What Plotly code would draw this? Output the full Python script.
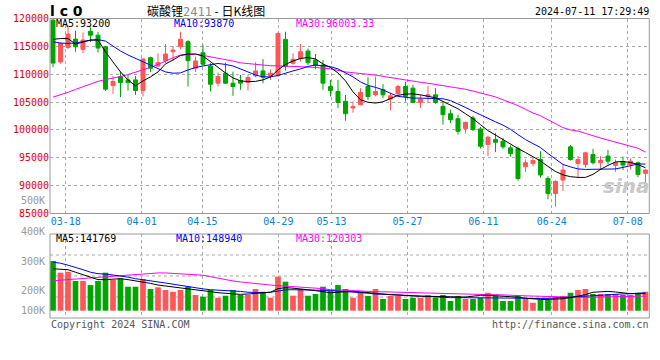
import plotly.graph_objects as go

# ---------------- data ----------------
dates = ["03-14", "03-15", "03-18", "03-19", "03-20", "03-21", "03-22", "03-25", "03-26", "03-27",
         "03-28", "03-29", "04-01", "04-02", "04-03", "04-08", "04-09", "04-10", "04-11", "04-12",
         "04-15", "04-16", "04-17", "04-18", "04-19", "04-22", "04-23", "04-24", "04-25", "04-26",
         "04-29", "04-30", "05-06", "05-07", "05-08", "05-09", "05-10", "05-13", "05-14", "05-15",
         "05-16", "05-17", "05-20", "05-21", "05-22", "05-23", "05-24", "05-27", "05-28", "05-29",
         "05-30", "05-31", "06-03", "06-04", "06-05", "06-06", "06-07", "06-11", "06-12", "06-13",
         "06-14", "06-17", "06-18", "06-19", "06-20", "06-21", "06-24", "06-25", "06-26", "06-27",
         "06-28", "07-01", "07-02", "07-03", "07-04", "07-05", "07-08", "07-09", "07-10", "07-11"]

tick_dates = ["03-18", "04-01", "04-15", "04-29", "05-13", "05-27", "06-11", "06-24", "07-08"]

opens = [119700, 112200, 114800, 116300, 114460, 117700, 117000, 114930, 107960, 109580,
         108980, 108980, 107070, 112970, 111480, 112430, 114040, 114930, 115830, 111070,
         113860, 111480, 108390, 110180, 108390, 108870, 108500, 109700, 110590, 109760,
         109760, 116250, 111960, 112850, 114160, 112550, 111660, 107790, 106900, 105130,
         103930, 104520, 107790, 106300, 107200, 105530, 106480, 107790, 107500, 104930,
         106000, 106300, 104230, 102910, 102020, 100230, 102140, 100180, 97380, 98270,
         97970, 96780, 96660, 93390, 93990, 94700, 91300, 88570, 91000, 96960,
         93990, 93800, 95590, 94110, 95300, 93630, 94290, 93800, 94110, 92200]
highs = [120000, 115700, 118800, 117800, 117500, 118400, 117600, 115100, 109700, 110460,
         109880, 109700, 112850, 113150, 113750, 115410, 115050, 117620, 116100, 113150,
         115230, 111960, 110300, 112070, 110460, 109870, 109870, 112140, 112730, 110890,
         117500, 117620, 113750, 115410, 114640, 113630, 112550, 108980, 108980, 106300,
         105130, 107500, 109460, 109580, 108210, 106720, 108100, 108660, 108090, 106300,
         107910, 107500, 105130, 103630, 102730, 101500, 102550, 100530, 98990, 99460,
         98600, 97200, 97000, 94700, 95000, 96180, 91700, 90950, 93800, 97300,
         95300, 96100, 96600, 95300, 96400, 94700, 95200, 94900, 94300, 92910]
lows = [111250, 111900, 114500, 114040, 113750, 115800, 113900, 107000, 106480, 105890,
        107070, 106300, 106000, 110400, 111300, 111960, 112430, 114500, 107790, 110400,
        111480, 106900, 107800, 108210, 106120, 107200, 107070, 109460, 108390, 108980,
        109500, 110650, 111700, 112260, 111660, 110900, 107200, 106000, 103930, 101660,
        103100, 104400, 105410, 106000, 105710, 103500, 106300, 105110, 104800, 103930,
        104800, 104700, 100950, 101250, 99160, 99340, 99800, 96660, 95300, 96010,
        96600, 95200, 90900, 92450, 93450, 91430, 87560, 86200, 89040, 94500,
        91430, 93230, 93800, 92800, 93800, 92500, 92800, 92900, 91500, 90230]
closes = [112000, 115530, 117200, 114930, 116130, 117000, 114700, 107320, 108680, 108500,
          108500, 107070, 112730, 111070, 112070, 113630, 114340, 116250, 112430, 112380,
          111790, 108210, 109580, 108390, 107790, 108390, 109400, 110590, 109460, 110180,
          117320, 111360, 112680, 114040, 112070, 111540, 108390, 107070, 104930, 102910,
          104230, 106720, 106000, 106900, 106300, 106120, 107790, 106000, 104930, 105530,
          106300, 104930, 102730, 101840, 99750, 101360, 100060, 97070, 98690, 97790,
          96960, 95770, 91280, 94110, 94520, 91900, 88570, 90770, 92800, 94700,
          94700, 95890, 94110, 94520, 94400, 94110, 93690, 94400, 92020, 92800]

ma5 = [116250, 116400, 116400, 115400, 115770, 116125, 116125, 114000, 112200, 110410,
       108980, 107910, 108800, 109520, 110410, 111840, 112550, 113360, 113630, 113630,
       113270, 112200, 111130, 110230, 109340, 108800, 108680, 108710, 108980, 109520,
       110770, 111750, 112370, 112820, 113000, 112730, 111840, 111210, 110230, 108800,
       106840, 105410, 104970, 104820, 105050, 105680, 106210, 106430, 106480, 106300,
       106000, 105770, 105110, 104520, 103800, 102910, 102020, 100950, 99880, 99080,
       98270, 97380, 96660, 95950, 95240, 94430, 93450, 92550, 91930, 91610,
       91480, 91480, 92020, 92910, 93630, 94250, 94340, 94160, 93800, 93200]
ma10 = [115820, 115590, 115540, 115590, 115860, 116125, 116210, 115950, 115050, 114160,
        113450, 112820, 112200, 111570, 110950, 110410, 110180, 110230, 110770, 111210,
        111480, 111750, 111930, 111750, 111480, 110950, 110410, 109870, 109520, 109520,
        109780, 110230, 110590, 110950, 111390, 111660, 111570, 111360, 110950, 110230,
        109520, 108620, 108000, 107640, 107200, 106570, 106030, 105860, 105710, 105710,
        105710, 105710, 105590, 105270, 104700, 104040, 103360, 102680, 102020, 101450,
        100860, 100110, 99160, 98270, 97550, 96840, 95770, 94790, 93800, 93360,
        93000, 92910, 92910, 92910, 92910, 93000, 93270, 93630, 93890, 93870]
ma30 = [105880, 106270, 106750, 107270, 107770, 108270, 108710, 109050, 109250, 109570,
        109930, 110320, 110750, 111230, 111750, 112370, 112960, 113450, 113570, 113590,
        113370, 113130, 112910, 112710, 112360, 112040, 111880, 111730, 111610, 111520,
        111500, 111480, 111450, 111370, 111290, 111210, 111140, 110980, 110700, 110410,
        110270, 110160, 110060, 109840, 109610, 109380, 109140, 108910, 108710, 108550,
        108380, 108180, 108000, 107790, 107550, 107290, 106980, 106660, 106300, 105930,
        105410, 104930, 104360, 103700, 103050, 102550, 101840, 101040, 100410, 100000,
        99800, 99380, 98930, 98550, 98180, 97800, 97500, 97130, 96710, 96003.33]

# volume in thousands (K)
volume = [415, 317, 325, 248, 248, 214, 248, 317, 256, 270,
          200, 200, 264, 181, 195, 173, 158, 173, 200, 131,
          117, 173, 108, 125, 173, 131, 131, 181, 158, 108,
          284, 242, 125, 181, 125, 139, 200, 164, 214, 181,
          108, 150, 123, 181, 98, 123, 123, 98, 108, 108,
          131, 108, 131, 81, 123, 98, 98, 108, 150, 125,
          81, 81, 123, 98, 67, 89, 89, 112, 123, 150,
          173, 181, 139, 139, 139, 139, 131, 131, 150, 158]
vol_ma5 = [350, 348, 342, 321, 300, 279, 259, 259, 261, 267,
           259, 250, 240, 228, 214, 204, 198, 190, 182, 176,
           167, 159, 150, 144, 138, 136, 139, 142, 148, 154,
           184, 192, 188, 184, 175, 167, 159, 150, 154, 159,
           161, 156, 150, 142, 134, 134, 131, 125, 123, 121,
           119, 117, 114, 114, 114, 114, 121, 128, 128, 125,
           121, 117, 113, 104, 98, 94, 94, 94, 100, 109,
           121, 134, 154, 159, 161, 156, 148, 142, 142, 141.769]
vol_ma10 = [405, 396, 380, 363, 342, 321, 309, 306, 298, 288,
            280, 267, 256, 246, 240, 231, 221, 209, 198, 189,
            182, 175, 173, 169, 164, 161, 154, 150, 150, 154,
            167, 174, 175, 175, 173, 171, 169, 169, 164, 161,
            156, 150, 146, 139, 134, 134, 131, 127, 124, 120,
            117, 114, 112, 109, 109, 109, 109, 109, 109, 109,
            109, 107, 105, 104, 102, 100, 103, 106, 110, 114,
            119, 125, 129, 131, 134, 137, 140, 142, 144, 148.94]
vol_ma30 = [250, 255, 259, 265, 269, 274, 279, 282, 287, 294,
            300, 306, 310, 314, 315, 315, 312, 309, 305, 302,
            296, 284, 271, 259, 248, 240, 232, 225, 219, 214,
            209, 205, 201, 198, 194, 189, 184, 175, 174, 171,
            169, 165, 161, 159, 159, 157, 156, 154, 153, 151,
            149, 148, 145, 143, 141, 139, 138, 136, 134, 134,
            133, 130, 127, 124, 122, 120, 119, 116, 114, 110,
            109, 110, 113, 115, 118, 119, 120, 121, 121, 120.303]

price_ticks = [85000, 90000, 95000, 100000, 105000, 110000, 115000, 120000]
vol_labels = ["500K", "400K", "300K", "200K", "100K"]

# ---------------- styling ----------------
W, H = 660, 360
RED = "#ff5757"
GREEN = "#00a600"
BLUE = "#0000ff"
MAG = "#ff00ff"
GRID = "#aaaaaa"
BORDER = "#999999"
MONO = "DejaVu Sans Mono"

n = len(dates)
x = list(range(n))
# grid lines of this chart are spread over (n-1) steps across the plot width
grid_x = [dates.index(d) * n / (n - 1) - 1 / 3 for d in tick_dates]
bar_colors = [RED if c >= o else GREEN for o, c in zip(opens, closes)]

XD = [50 / W, 649.3 / W]
Y1D = [1 - 213.5 / H, 1 - 18.5 / H]
Y2D = [1 - 318 / H, 1 - 234 / H]


def px(xp, yp):
    return xp / W, 1 - yp / H


fig = go.Figure()
fig.add_trace(go.Candlestick(
    x=x, open=opens, high=highs, low=lows, close=closes,
    increasing=dict(line=dict(color=RED, width=1), fillcolor=RED),
    decreasing=dict(line=dict(color=GREEN, width=1), fillcolor=GREEN),
    whiskerwidth=0, hoverinfo="none", showlegend=False, xaxis="x", yaxis="y"))
for vals, col in [(ma30, MAG), (ma10, BLUE), (ma5, "black")]:
    fig.add_trace(go.Scatter(x=x, y=vals, mode="lines", line=dict(color=col, width=1),
                             hoverinfo="skip", showlegend=False, xaxis="x", yaxis="y"))

fig.add_trace(go.Bar(x=x, y=volume, width=0.76, marker=dict(color=bar_colors, line=dict(width=0)),
                     hoverinfo="skip", showlegend=False, xaxis="x2", yaxis="y2"))
for vals, col in [(vol_ma30, MAG), (vol_ma10, BLUE), (vol_ma5, "black")]:
    fig.add_trace(go.Scatter(x=x, y=vals, mode="lines", line=dict(color=col, width=1),
                             hoverinfo="skip", showlegend=False, xaxis="x2", yaxis="y2"))

xcommon = dict(range=[-0.4, 79.51], tickvals=grid_x, showgrid=True, gridcolor=GRID,
               griddash="dot", gridwidth=1, ticks="", zeroline=False, showline=False,
               fixedrange=True)
fig.update_layout(
    width=W, height=H, margin=dict(l=0, r=0, t=0, b=0, autoexpand=False),
    paper_bgcolor="white", plot_bgcolor="white", showlegend=False, boxgap=0.24,
    xaxis=dict(domain=XD, anchor="y", ticktext=tick_dates,
               tickfont=dict(family=MONO, size=10, color="#0a80d8"),
               rangeslider=dict(visible=False), automargin=False, **xcommon),
    xaxis2=dict(domain=XD, anchor="y2", showticklabels=False, automargin=False, **xcommon),
    yaxis=dict(domain=Y1D, anchor="x", range=[85000, 120000], tickvals=price_ticks,
               tickformat="d", showgrid=True, gridcolor=GRID, griddash="dot", gridwidth=1,
               ticks="", zeroline=False, tickfont=dict(family=MONO, size=10, color="#e60000"),
               fixedrange=True, automargin=False),
    yaxis2=dict(domain=Y2D, anchor="x2", range=[-61, 640], showgrid=False,
                showticklabels=False, zeroline=False, fixedrange=True, automargin=False),
)

shapes = [
    dict(type="rect", xref="x domain", yref="y domain", x0=0, x1=1, y0=0, y1=1,
         line=dict(color=BORDER, width=1), layer="above"),
    dict(type="rect", xref="x2 domain", yref="y2 domain", x0=0, x1=1, y0=0, y1=1,
         line=dict(color=BORDER, width=1), layer="above"),
]
for f in (0.25, 0.5, 0.75):
    shapes.append(dict(type="line", xref="x2 domain", yref="y2 domain", x0=0, x1=1, y0=f, y1=f,
                       line=dict(color=GRID, width=1, dash="dot"), layer="below"))
fig.update_layout(shapes=shapes)


def ann(text, xp, yp, xanchor="left", color="black", size=10, family=MONO):
    ax, ay = px(xp, yp)
    return dict(text=text, x=ax, y=ay, xref="paper", yref="paper", xanchor=xanchor,
                yanchor="middle", showarrow=False, borderpad=0,
                font=dict(family=family, size=size, color=color))


anns = [
    ann("<b>l c 0</b>", 49, 10.5, size=14, family="DejaVu Sans"),
    ann('碳酸锂<span style="color:#8a8a8a;font-family:DejaVu Sans Mono">2411</span> - 日K线图',
        206, 10.5, xanchor="center", size=12, family="Noto Sans CJK SC"),
    ann("2024-07-11 17:29:49", 650, 11, xanchor="right"),
    ann("MA5:%d" % ma5[-1], 55, 24),
    ann("MA10:%d" % ma10[-1], 173, 24, color=BLUE),
    ann("MA30:%.2f" % ma30[-1], 295, 24, color=MAG),
    ann("MA5:%d" % round(vol_ma5[-1] * 1000), 55, 238),
    ann("MA10:%d" % round(vol_ma10[-1] * 1000), 175, 238, color=BLUE),
    ann("MA30:%d" % round(vol_ma30[-1] * 1000), 295, 238, color=MAG),
    ann("Copyright 2024 SINA.COM", 50, 324, color="#555555"),
    ann("http://finance.sina.com.cn", 650, 324, xanchor="right", color="#555555"),
    ann("<b><i>sina</i></b>", 626, 186, xanchor="center", color="#c8c8c8", size=20,
        family="DejaVu Sans"),
]
for lab, yp in zip(vol_labels, [200, 231, 261, 290.5, 310.5]):
    anns.append(ann(lab, 46, yp, xanchor="right", color="#999999"))
fig.update_layout(annotations=anns)

fig.write_html("out.html", config={"displayModeBar": False},
               post_script="document.body.style.margin='0px';")
